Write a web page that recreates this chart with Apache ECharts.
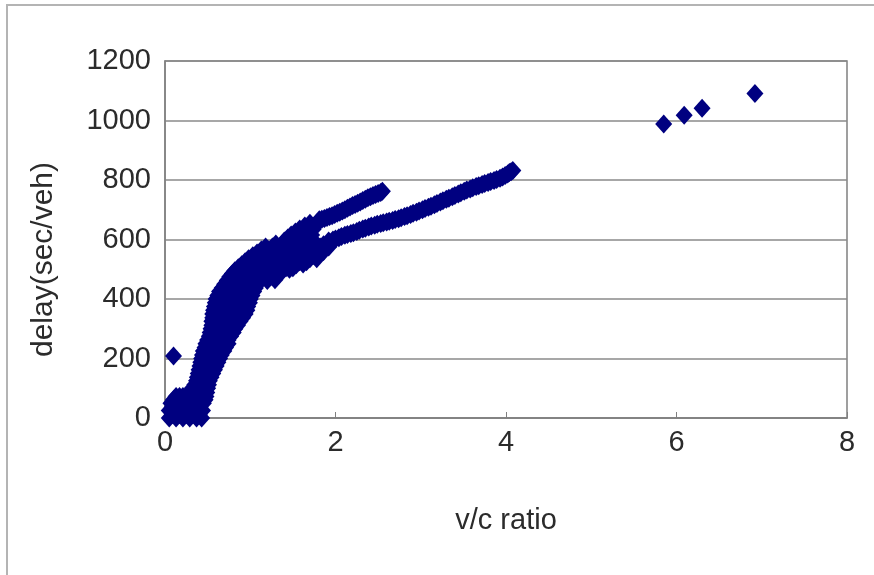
<!DOCTYPE html>
<html>
<head>
<meta charset="utf-8">
<script src="https://cdn.jsdelivr.net/npm/echarts@6/dist/echarts.min.js"></script>
<style>
  html, body { margin: 0; padding: 0; background: #fff; }
  #chart { position: absolute; left: 0; top: 0; width: 874px; height: 575px; }
  #frame { position: absolute; left: 6px; top: 4px; width: 900px; height: 600px;
           border-left: 2px solid #b4b4b4; border-top: 2px solid #b4b4b4; pointer-events: none; }
</style>
</head>
<body>
<div id="chart"></div>
<div id="frame"></div>
<script>
// ---- data: [v/c ratio, delay (sec/veh)] ----
const xTicks = [0, 2, 4, 6, 8];
const yTicks = [0, 200, 400, 600, 800, 1000, 1200];
const xTitle = 'v/c ratio';
const yTitle = 'delay(sec/veh)';

const plateauPoints = [
  [0.05, 0], [0.13, 0], [0.21, 0], [0.29, 0], [0.37, 0], [0.43, 0],
  [0.09, 12], [0.17, 12], [0.25, 12], [0.33, 12], [0.40, 12],
  [0.05, 25], [0.13, 25], [0.21, 25], [0.29, 25], [0.37, 25], [0.44, 25],
  [0.09, 37], [0.17, 37], [0.25, 37], [0.33, 37], [0.41, 37],
  [0.07, 50], [0.15, 50], [0.23, 50], [0.31, 50], [0.39, 50], [0.45, 50],
  [0.10, 61], [0.18, 61], [0.26, 61], [0.34, 61], [0.42, 61], [0.47, 61],
  [0.13, 72], [0.17, 72], [0.21, 72], [0.25, 72], [0.29, 72], [0.33, 72], [0.37, 72], [0.45, 72], [0.48, 72],
  [0.29, 86], [0.36, 86], [0.44, 86], [0.49, 86]
];

const risingBandPoints = [
  [0.32, 100], [0.40, 100], [0.47, 100], [0.50, 100],
  [0.35, 112], [0.43, 112], [0.51, 112],
  [0.37, 125], [0.45, 125], [0.52, 125],
  [0.38, 137], [0.46, 137], [0.54, 137],
  [0.39, 150], [0.47, 150], [0.56, 150],
  [0.40, 162], [0.48, 162], [0.56, 162], [0.58, 162],
  [0.41, 175], [0.49, 175], [0.57, 175], [0.60, 175],
  [0.42, 187], [0.50, 187], [0.58, 187], [0.62, 187],
  [0.43, 200], [0.51, 200], [0.59, 200], [0.64, 200],
  [0.44, 212], [0.52, 212], [0.60, 212], [0.66, 212],
  [0.45, 225], [0.53, 225], [0.61, 225], [0.69, 225],
  [0.47, 237], [0.55, 237], [0.63, 237], [0.71, 237],
  [0.48, 250], [0.56, 250], [0.64, 250], [0.72, 250], [0.74, 250],
  [0.50, 262], [0.58, 262], [0.66, 262], [0.74, 262],
  [0.52, 275], [0.60, 275], [0.68, 275], [0.77, 275],
  [0.53, 287], [0.61, 287], [0.69, 287], [0.77, 287], [0.80, 287],
  [0.54, 300], [0.62, 300], [0.70, 300], [0.78, 300], [0.82, 300],
  [0.55, 312], [0.63, 312], [0.71, 312], [0.79, 312], [0.85, 312],
  [0.55, 325], [0.63, 325], [0.71, 325], [0.79, 325], [0.88, 325],
  [0.56, 337], [0.64, 337], [0.72, 337], [0.80, 337], [0.88, 337], [0.91, 337],
  [0.56, 350], [0.64, 350], [0.72, 350], [0.80, 350], [0.88, 350], [0.94, 350],
  [0.57, 362], [0.65, 362], [0.73, 362], [0.81, 362], [0.89, 362], [0.96, 362],
  [0.58, 375], [0.66, 375], [0.74, 375], [0.82, 375], [0.90, 375], [0.97, 375],
  [0.59, 387], [0.67, 387], [0.75, 387], [0.83, 387], [0.91, 387], [0.99, 387],
  [0.60, 400], [0.68, 400], [0.76, 400], [0.84, 400], [0.92, 400], [1.00, 400],
  [0.62, 412], [0.70, 412], [0.78, 412], [0.86, 412], [0.94, 412], [1.02, 412],
  [0.64, 425], [0.72, 425], [0.80, 425], [0.88, 425], [0.96, 425], [1.04, 425],
  [0.67, 437], [0.75, 437], [0.83, 437], [0.91, 437], [0.99, 437], [1.06, 437],
  [0.70, 450], [0.78, 450], [0.86, 450], [0.94, 450], [1.02, 450], [1.08, 450],
  [0.73, 462], [0.81, 462], [0.89, 462], [0.97, 462], [1.05, 462], [1.12, 462], [1.20, 462],
  [1.29, 465],
  [0.76, 475], [0.84, 475], [0.92, 475], [1.00, 475], [1.08, 475], [1.16, 475], [1.24, 475],
  [0.79, 485], [0.87, 485], [0.95, 485], [1.03, 485], [1.11, 485], [1.19, 485], [1.27, 485], [1.33, 485],
  [0.82, 495], [0.90, 495], [0.98, 495], [1.06, 495], [1.14, 495], [1.22, 495], [1.30, 495], [1.38, 495],
  [1.46, 500],
  [0.86, 505], [0.94, 505], [1.02, 505], [1.10, 505], [1.18, 505], [1.26, 505], [1.34, 505], [1.42, 505], [1.50, 505],
  [0.90, 515], [0.98, 515], [1.06, 515], [1.14, 515], [1.22, 515], [1.30, 515], [1.38, 515], [1.46, 515], [1.54, 515],
  [1.62, 518],
  [0.94, 525], [1.02, 525], [1.10, 525], [1.18, 525], [1.26, 525], [1.34, 525], [1.42, 525], [1.50, 525], [1.58, 525], [1.66, 525],
  [0.98, 535], [1.06, 535], [1.14, 535], [1.22, 535], [1.30, 535], [1.38, 535], [1.46, 535], [1.54, 535], [1.62, 535], [1.70, 535],
  [1.78, 535],
  [1.03, 545], [1.11, 545], [1.19, 545], [1.27, 545], [1.35, 545], [1.43, 545], [1.51, 545], [1.59, 545], [1.67, 545], [1.75, 545],
  [1.08, 555], [1.16, 555], [1.24, 555], [1.32, 555], [1.40, 555], [1.48, 555], [1.56, 555], [1.64, 555], [1.72, 555], [1.80, 555],
  [1.13, 565], [1.21, 565], [1.29, 565], [1.37, 565], [1.45, 565], [1.53, 565], [1.61, 565], [1.69, 565], [1.77, 565], [1.84, 565],
  [1.18, 575], [1.26, 575], [1.34, 575], [1.42, 575], [1.50, 575], [1.58, 575], [1.66, 575], [1.74, 575], [1.82, 575], [1.88, 575],
  [1.30, 585], [1.38, 585], [1.46, 585], [1.54, 585], [1.62, 585], [1.70, 585], [1.78, 583],
  [1.40, 595], [1.48, 595], [1.56, 595], [1.64, 595], [1.72, 595],
  [1.44, 605], [1.52, 605], [1.60, 605], [1.68, 605],
  [1.48, 615], [1.56, 615], [1.64, 615], [1.72, 615],
  [1.53, 625], [1.61, 625], [1.69, 625],
  [1.58, 635], [1.66, 635], [1.74, 635],
  [1.64, 645], [1.72, 645],
  [1.70, 655], [1.78, 655]
];

const upperBranchPoints = [
  [1.81, 666], [1.84, 668], [1.87, 671], [1.90, 674], [1.93, 677], [1.96, 680],
  [1.99, 684], [2.02, 688], [2.05, 692], [2.08, 696], [2.11, 700], [2.14, 705],
  [2.17, 709], [2.20, 714], [2.23, 718], [2.26, 722], [2.29, 726], [2.32, 731],
  [2.35, 735], [2.38, 740], [2.41, 744], [2.44, 748], [2.47, 751], [2.50, 755],
  [2.53, 758], [2.55, 762]
];

const lowerBranchPoints = [
  [1.86, 560], [1.86, 582], [1.92, 575], [1.92, 595],
  [1.97, 598], [2.00, 602], [2.04, 606], [2.07, 610], [2.11, 614], [2.14, 617],
  [2.18, 620], [2.21, 623], [2.25, 627], [2.28, 631], [2.32, 635], [2.35, 638],
  [2.39, 642], [2.42, 645], [2.46, 648], [2.49, 651], [2.53, 654], [2.56, 656],
  [2.60, 659], [2.63, 661], [2.67, 664], [2.70, 667], [2.74, 670], [2.77, 673],
  [2.81, 677], [2.84, 680], [2.88, 684], [2.91, 688], [2.95, 692], [2.98, 696],
  [3.02, 700], [3.05, 704], [3.09, 708], [3.12, 712], [3.16, 717], [3.19, 721],
  [3.23, 726], [3.26, 730], [3.30, 735], [3.33, 739], [3.37, 744], [3.40, 748],
  [3.44, 753], [3.47, 757], [3.51, 762], [3.54, 766], [3.58, 770], [3.61, 774],
  [3.65, 778], [3.68, 781], [3.72, 785], [3.75, 788], [3.79, 792], [3.82, 795],
  [3.86, 798], [3.89, 802], [3.93, 806], [3.96, 810], [3.99, 815], [4.02, 820],
  [4.04, 825], [4.06, 828], [4.08, 832]
];

const outlierPoints = [
  [0.10, 208], [5.85, 988], [6.09, 1018], [6.30, 1041], [6.92, 1091]
];

const allPoints = [].concat(plateauPoints, risingBandPoints, upperBranchPoints,
                            lowerBranchPoints, outlierPoints);

const chart = echarts.init(document.getElementById('chart'), null, { renderer: 'canvas' });
const textColor = '#2b2b2b';
const fontFamily = 'Liberation Sans, Arial, sans-serif';

chart.setOption({
  animation: false,
  backgroundColor: '#ffffff',
  grid: {
    left: 165, right: 27, top: 61, bottom: 157,
    show: true, borderColor: '#808080', borderWidth: 1.5, backgroundColor: '#ffffff'
  },
  xAxis: {
    type: 'value',
    min: xTicks[0], max: xTicks[xTicks.length - 1], interval: xTicks[1] - xTicks[0],
    name: xTitle, nameLocation: 'middle', nameGap: 88,
    nameTextStyle: { fontSize: 29, color: textColor, fontFamily: fontFamily },
    axisLine: { show: true, lineStyle: { color: '#808080', width: 1.5 } },
    axisTick: { show: true, inside: true, length: 6, lineStyle: { color: '#808080' } },
    axisLabel: { fontSize: 29, color: textColor, fontFamily: fontFamily, margin: 10 },
    splitLine: { show: false }
  },
  yAxis: {
    type: 'value',
    min: yTicks[0], max: yTicks[yTicks.length - 1], interval: yTicks[1] - yTicks[0],
    name: yTitle, nameLocation: 'middle', nameGap: 106, nameRotate: 90,
    nameTextStyle: { fontSize: 30, color: textColor, fontFamily: fontFamily, padding: [0, 40, 0, 0] },
    axisLine: { show: true, lineStyle: { color: '#808080', width: 1.5 } },
    axisTick: { show: false },
    axisLabel: { fontSize: 29, color: textColor, fontFamily: fontFamily, margin: 14,
                 formatter: function (v) { return String(v); } },
    splitLine: { show: true, lineStyle: { color: '#8a8a8a', width: 1.5 } }
  },
  series: [{
    type: 'scatter',
    data: allPoints,
    symbol: 'diamond',
    symbolSize: [17, 19],
    itemStyle: { color: '#000080', opacity: 1, borderWidth: 0, borderColor: '#000080',
                 shadowBlur: 0 },
    clip: false
  }]
});
</script>
</body>
</html>
